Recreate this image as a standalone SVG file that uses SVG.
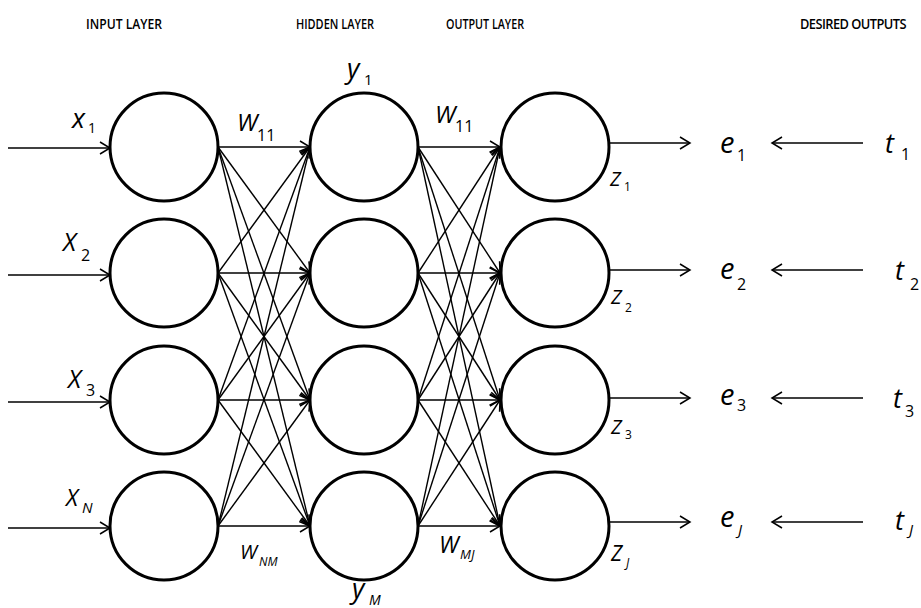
<svg xmlns="http://www.w3.org/2000/svg" width="921" height="608" viewBox="0 0 921 608">
<style>
.node{fill:#fff;stroke:#000;stroke-width:3}
.ln{stroke:#000;stroke-width:1.4;fill:none}
.hdr{font-family:"Open Sans","Liberation Sans",sans-serif;font-size:14px;font-weight:600;fill:#000}
.lb{font-family:"Open Sans","Liberation Sans",sans-serif;font-style:italic;fill:#000}
.d{font-style:normal}
</style>
<defs>
<marker id="ah" markerUnits="userSpaceOnUse" markerWidth="14" markerHeight="14" refX="10" refY="6" orient="auto" viewBox="-1 -1 13 14">
<path d="M0,0 L10,6 L0,12" fill="none" stroke="#000" stroke-width="1.5"/>
</marker>
</defs>
<g id="headers">
<text class="hdr" x="86" y="29" textLength="76" lengthAdjust="spacingAndGlyphs">INPUT LAYER</text>
<text class="hdr" x="296" y="29" textLength="78" lengthAdjust="spacingAndGlyphs">HIDDEN LAYER</text>
<text class="hdr" x="446" y="29" textLength="78" lengthAdjust="spacingAndGlyphs">OUTPUT LAYER</text>
<text class="hdr" x="800" y="29" font-size="12" letter-spacing="-0.6" textLength="106" lengthAdjust="spacingAndGlyphs">DESIRED OUTPUTS</text>
</g>
<g id="connectors">
<line class="ln" x1="8" y1="148" x2="110" y2="148" marker-end="url(#ah)"/>
<line class="ln" x1="8" y1="275" x2="110" y2="275" marker-end="url(#ah)"/>
<line class="ln" x1="8" y1="402" x2="110" y2="402" marker-end="url(#ah)"/>
<line class="ln" x1="8" y1="528" x2="110" y2="528" marker-end="url(#ah)"/>
<line class="ln" x1="218" y1="147" x2="310" y2="147" marker-end="url(#ah)"/>
<line class="ln" x1="218" y1="147" x2="310" y2="273" marker-end="url(#ah)"/>
<line class="ln" x1="218" y1="147" x2="310" y2="400" marker-end="url(#ah)"/>
<line class="ln" x1="218" y1="147" x2="310" y2="526" marker-end="url(#ah)"/>
<line class="ln" x1="218" y1="273" x2="310" y2="147" marker-end="url(#ah)"/>
<line class="ln" x1="218" y1="273" x2="310" y2="273" marker-end="url(#ah)"/>
<line class="ln" x1="218" y1="273" x2="310" y2="400" marker-end="url(#ah)"/>
<line class="ln" x1="218" y1="273" x2="310" y2="526" marker-end="url(#ah)"/>
<line class="ln" x1="218" y1="400" x2="310" y2="147" marker-end="url(#ah)"/>
<line class="ln" x1="218" y1="400" x2="310" y2="273" marker-end="url(#ah)"/>
<line class="ln" x1="218" y1="400" x2="310" y2="400" marker-end="url(#ah)"/>
<line class="ln" x1="218" y1="400" x2="310" y2="526" marker-end="url(#ah)"/>
<line class="ln" x1="218" y1="526" x2="310" y2="147" marker-end="url(#ah)"/>
<line class="ln" x1="218" y1="526" x2="310" y2="273" marker-end="url(#ah)"/>
<line class="ln" x1="218" y1="526" x2="310" y2="400" marker-end="url(#ah)"/>
<line class="ln" x1="218" y1="526" x2="310" y2="526" marker-end="url(#ah)"/>
<line class="ln" x1="418" y1="147" x2="500" y2="147" marker-end="url(#ah)"/>
<line class="ln" x1="418" y1="147" x2="500" y2="273" marker-end="url(#ah)"/>
<line class="ln" x1="418" y1="147" x2="500" y2="400" marker-end="url(#ah)"/>
<line class="ln" x1="418" y1="147" x2="500" y2="526" marker-end="url(#ah)"/>
<line class="ln" x1="418" y1="273" x2="500" y2="147" marker-end="url(#ah)"/>
<line class="ln" x1="418" y1="273" x2="500" y2="273" marker-end="url(#ah)"/>
<line class="ln" x1="418" y1="273" x2="500" y2="400" marker-end="url(#ah)"/>
<line class="ln" x1="418" y1="273" x2="500" y2="526" marker-end="url(#ah)"/>
<line class="ln" x1="418" y1="400" x2="500" y2="147" marker-end="url(#ah)"/>
<line class="ln" x1="418" y1="400" x2="500" y2="273" marker-end="url(#ah)"/>
<line class="ln" x1="418" y1="400" x2="500" y2="400" marker-end="url(#ah)"/>
<line class="ln" x1="418" y1="400" x2="500" y2="526" marker-end="url(#ah)"/>
<line class="ln" x1="418" y1="526" x2="500" y2="147" marker-end="url(#ah)"/>
<line class="ln" x1="418" y1="526" x2="500" y2="273" marker-end="url(#ah)"/>
<line class="ln" x1="418" y1="526" x2="500" y2="400" marker-end="url(#ah)"/>
<line class="ln" x1="418" y1="526" x2="500" y2="526" marker-end="url(#ah)"/>
<line class="ln" x1="608" y1="143" x2="690" y2="143" marker-end="url(#ah)"/>
<line class="ln" x1="608" y1="270" x2="690" y2="270" marker-end="url(#ah)"/>
<line class="ln" x1="608" y1="398" x2="690" y2="398" marker-end="url(#ah)"/>
<line class="ln" x1="608" y1="522" x2="690" y2="522" marker-end="url(#ah)"/>
<line class="ln" x1="863" y1="143" x2="772" y2="143" marker-end="url(#ah)"/>
<line class="ln" x1="863" y1="270" x2="772" y2="270" marker-end="url(#ah)"/>
<line class="ln" x1="863" y1="398" x2="772" y2="398" marker-end="url(#ah)"/>
<line class="ln" x1="863" y1="522" x2="772" y2="522" marker-end="url(#ah)"/>
</g>
<g id="input1"><circle class="node" cx="164" cy="147" r="54"/><text class="lb" x="72" y="128" font-size="27">x<tspan class="d" x="88" y="133" font-size="14">1</tspan></text></g>
<g id="input2"><circle class="node" cx="164" cy="273" r="54"/><text class="lb" x="63" y="251" font-size="25">X<tspan class="d" x="81" y="261" font-size="16">2</tspan></text></g>
<g id="input3"><circle class="node" cx="164" cy="400" r="54"/><text class="lb" x="68" y="388" font-size="25">X<tspan class="d" x="86" y="396" font-size="16">3</tspan></text></g>
<g id="inputN"><circle class="node" cx="164" cy="526" r="54"/><text class="lb" x="66" y="506" font-size="23">X<tspan x="82" y="513" font-size="15">N</tspan></text></g>
<g id="hidden1"><circle class="node" cx="364" cy="147" r="54"/><text class="lb" x="347" y="78" font-size="27">y<tspan class="d" x="364" y="85" font-size="15">1</tspan></text></g>
<g id="hidden2"><circle class="node" cx="364" cy="273" r="54"/></g>
<g id="hidden3"><circle class="node" cx="364" cy="400" r="54"/></g>
<g id="hiddenM"><circle class="node" cx="364" cy="526" r="54"/><text class="lb" x="352" y="598" font-size="27">y<tspan x="369" y="605" font-size="14">M</tspan></text></g>
<g id="output1"><circle class="node" cx="555" cy="147" r="54"/><text class="lb" x="610" y="186" font-size="20">Z<tspan class="d" x="624" y="191" font-size="12">1</tspan></text></g>
<g id="output2"><circle class="node" cx="555" cy="273" r="54"/><text class="lb" x="611" y="304" font-size="20">Z<tspan class="d" x="625" y="312" font-size="12">2</tspan></text></g>
<g id="output3"><circle class="node" cx="555" cy="400" r="54"/><text class="lb" x="611" y="434" font-size="20">Z<tspan class="d" x="625" y="439" font-size="12">3</tspan></text></g>
<g id="outputJ"><circle class="node" cx="555" cy="526" r="54"/><text class="lb" x="611" y="561" font-size="21">Z<tspan x="626" y="567" font-size="12">J</tspan></text></g>
<g id="weights">
<text class="lb" x="237" y="131" font-size="24">W<tspan class="d" x="257" y="141" font-size="16">11</tspan></text>
<text class="lb" x="435" y="123" font-size="24">W<tspan class="d" x="455" y="132" font-size="16">11</tspan></text>
<text class="lb" x="240" y="559" font-size="20">W<tspan x="259" y="566" font-size="12">NM</tspan></text>
<text class="lb" x="439" y="553" font-size="23">W<tspan x="460" y="559" font-size="13">MJ</tspan></text>
</g>
<g id="errors">
<text class="lb" x="720" y="153" font-size="29">e<tspan class="d" x="737" y="161" font-size="16">1</tspan></text>
<text class="lb" x="720" y="279" font-size="29">e<tspan class="d" x="737" y="290" font-size="16">2</tspan></text>
<text class="lb" x="720" y="405" font-size="29">e<tspan class="d" x="737" y="411" font-size="16">3</tspan></text>
<text class="lb" x="720" y="527" font-size="29">e<tspan x="738" y="535" font-size="15">J</tspan></text>
</g>
<g id="targets">
<text class="lb" x="885" y="153" font-size="27">t<tspan class="d" x="901" y="160" font-size="16">1</tspan></text>
<text class="lb" x="895" y="280" font-size="27">t<tspan class="d" x="910" y="290" font-size="16">2</tspan></text>
<text class="lb" x="893" y="408" font-size="27">t<tspan class="d" x="905" y="417" font-size="16">3</tspan></text>
<text class="lb" x="895" y="530" font-size="27">t<tspan x="909" y="535" font-size="15">J</tspan></text>
</g>
</svg>
